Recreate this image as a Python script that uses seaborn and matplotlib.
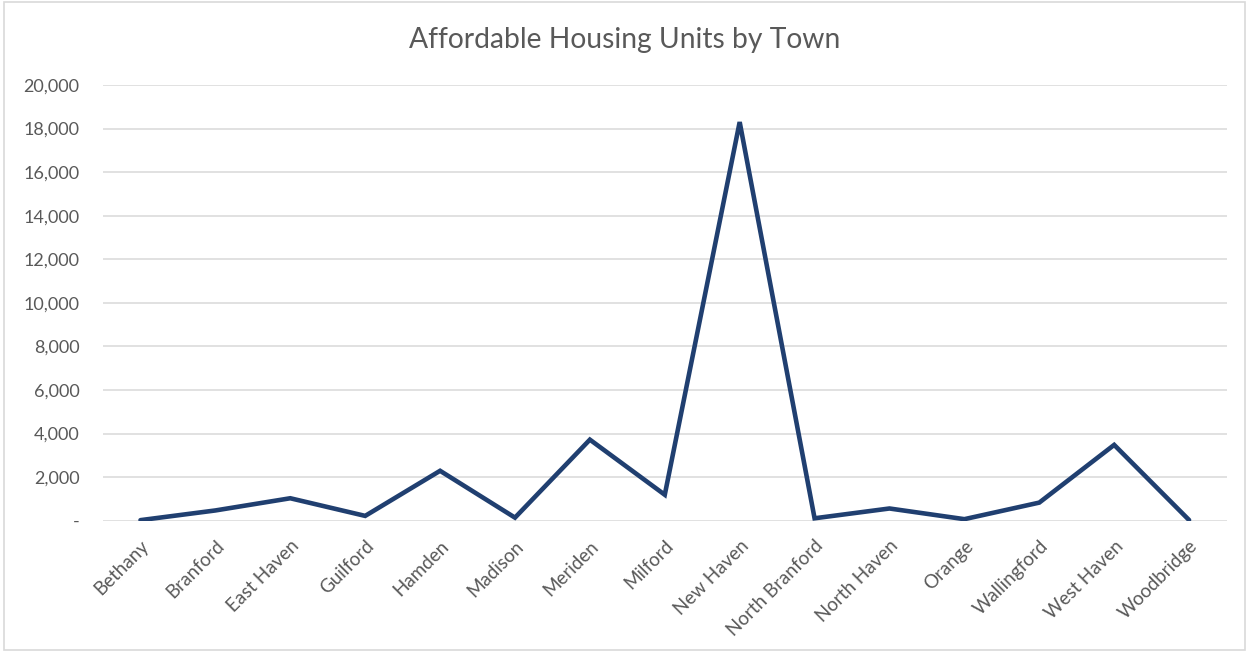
import matplotlib
matplotlib.use("Agg")
import matplotlib.pyplot as plt
import seaborn as sns
import pandas as pd
from matplotlib.patches import Rectangle
from matplotlib.ticker import FuncFormatter

# ── data ────────────────────────────────────────────────────────────────────
towns = ["Bethany", "Branford", "East Haven", "Guilford", "Hamden", "Madison",
         "Meriden", "Milford", "New Haven", "North Branford", "North Haven",
         "Orange", "Wallingford", "West Haven", "Woodbridge"]
units = [25, 470, 1030, 220, 2290, 140, 3720, 1190, 18300, 110, 560,
         70, 830, 3480, 30]
y_ticks = [0, 2000, 4000, 6000, 8000, 10000, 12000, 14000, 16000, 18000, 20000]

df = pd.DataFrame({"town": towns, "units": units})

sns.set_theme(style="white")
plt.rcParams["font.family"] = ["Lato", "DejaVu Sans"]

TEXT = "#595959"
GRID = "#d9d9d9"
LINE = "#203f70"

fig = plt.figure(figsize=(12.49, 6.52), dpi=100)
fig.patch.set_facecolor("white")
ax = fig.add_axes([0.0825, 0.2014, 0.8995, 0.6682])

sns.lineplot(data=df, x="town", y="units", sort=False, color=LINE,
             linewidth=3.3, ax=ax, zorder=3)
ax.lines[0].set_solid_joinstyle("miter")

ax.set_xlim(-0.5, len(towns) - 0.5)
ax.set_ylim(0, 20000)
ax.set_yticks(y_ticks)
ax.yaxis.set_major_formatter(FuncFormatter(lambda v, p: "-" if v == 0 else f"{int(v):,}"))
ax.grid(axis="y", color=GRID, linewidth=1.1)
ax.grid(axis="x", visible=False)
for s in ax.spines.values():
    s.set_visible(False)
ax.set_xlabel("")
ax.set_ylabel("")
ax.tick_params(axis="both", length=0, colors=TEXT, labelsize=13)
ax.tick_params(axis="y", pad=17)
ax.tick_params(axis="x", pad=12, labelsize=13.5)
plt.setp(ax.get_xticklabels(), rotation=45, ha="right", rotation_mode="anchor")

fig.suptitle("Affordable Housing Units by Town", color=TEXT, fontsize=20.3,
             y=0.939, va="center")

# outer chart border
fig.patches.append(Rectangle((0.003, 0.003), 0.994, 0.994, transform=fig.transFigure,
                             fill=False, edgecolor="#d9d9d9", linewidth=1.2))

fig.savefig("out.png", dpi=100, facecolor="white")
